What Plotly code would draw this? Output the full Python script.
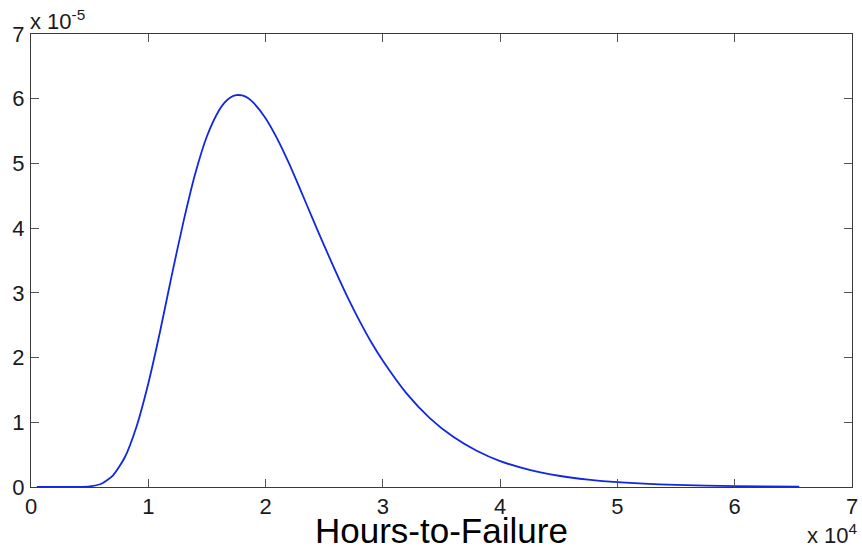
import plotly.graph_objects as go

# Hours-to-failure (hours) and probability density
hours = [500, 2000, 3000, 4000, 5000, 6000, 7000, 8000, 9000, 10000,
         11000, 12000, 13000, 14000, 15000, 16000, 16500, 17000, 17500, 18000,
         18500, 19000, 20000,
         21000, 22000, 23000, 24000, 25000, 26000, 27000, 28000, 29000, 30000,
         32000, 34000, 36000, 38000, 40000, 42500, 45000, 47500, 50000,
         55000, 60000, 65500]
density = [0.0, 0.0, 0.00002e-5, 0.0007e-5, 0.009e-5, 0.051e-5, 0.181e-5, 0.46e-5, 0.936e-5, 1.60e-5,
           2.40e-5, 3.27e-5, 4.10e-5, 4.84e-5, 5.42e-5, 5.81e-5, 5.94e-5, 6.02e-5, 6.055e-5, 6.05e-5,
           6.01e-5, 5.93e-5, 5.70e-5,
           5.38e-5, 5.00e-5, 4.58e-5, 4.15e-5, 3.73e-5, 3.32e-5, 2.93e-5, 2.57e-5, 2.24e-5, 1.95e-5,
           1.45e-5, 1.065e-5, 0.775e-5, 0.56e-5, 0.40e-5, 0.265e-5, 0.174e-5, 0.114e-5, 0.0745e-5,
           0.032e-5, 0.0138e-5, 0.006e-5]

x_tick_vals = [0, 10000, 20000, 30000, 40000, 50000, 60000, 70000]
x_tick_text = ["0", "1", "2", "3", "4", "5", "6", "7"]
y_tick_vals = [0, 1e-5, 2e-5, 3e-5, 4e-5, 5e-5, 6e-5, 7e-5]
y_tick_text = ["0", "1", "2", "3", "4", "5", "6", "7"]

FONT = "Arial, 'Liberation Sans', sans-serif"
TICK_COLOR = "#1a1a1a"

fig = go.Figure()
fig.add_trace(go.Scatter(
    x=hours, y=density, mode="lines",
    line=dict(color="#1128e0", width=1.8, shape="spline", smoothing=0.6),
    hoverinfo="skip", showlegend=False,
))

axis_common = dict(
    showline=True, linecolor="#3a3a3a", linewidth=1,
    ticks="inside", ticklen=8, tickcolor="#555555", tickwidth=1,
    mirror="ticks", showgrid=False, zeroline=False,
    tickfont=dict(family=FONT, size=22, color=TICK_COLOR),
    ticklabeloverflow="allow",
)

fig.update_layout(
    width=862, height=552,
    margin=dict(l=31, r=4, t=34, b=65),
    paper_bgcolor="white", plot_bgcolor="white",
    font=dict(family=FONT, color="#000000"),
    xaxis=dict(range=[0, 70000], tickvals=x_tick_vals, ticktext=x_tick_text,
               ticklabelstandoff=0, **axis_common),
    yaxis=dict(range=[0, 7e-5], tickvals=y_tick_vals, ticktext=y_tick_text,
               ticklabelstandoff=1, **axis_common),
    annotations=[
        dict(text="Hours-to-Failure", xref="paper", yref="paper", x=0.5, y=0,
             yshift=-65, xanchor="center", yanchor="bottom", showarrow=False,
             font=dict(family=FONT, size=35, color="#000000")),
        dict(text="x 10<sup>-5</sup>", xref="paper", yref="paper", x=0, y=1,
             xshift=-3, yshift=-2, xanchor="left", yanchor="bottom", showarrow=False,
             font=dict(family=FONT, size=22, color=TICK_COLOR)),
        dict(text="x 10<sup>4</sup>", xref="paper", yref="paper", x=1, y=0,
             xshift=-47, yshift=-63, xanchor="left", yanchor="bottom", showarrow=False,
             font=dict(family=FONT, size=22, color=TICK_COLOR)),
    ],
)

fig.write_html("out.html")
